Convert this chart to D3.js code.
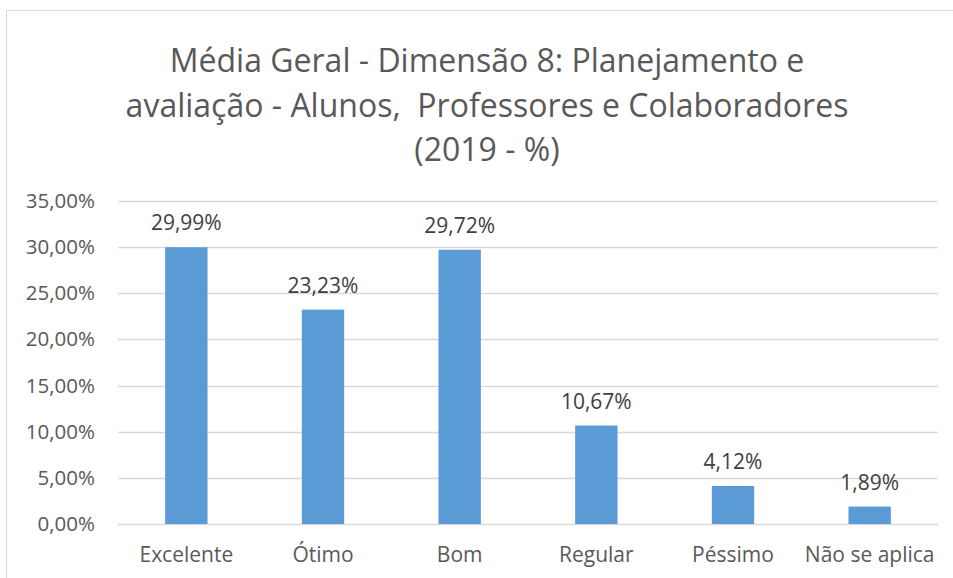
<!DOCTYPE html>
<html lang="pt">
<head>
<meta charset="UTF-8">
<script src="https://d3js.org/d3.v7.min.js"></script>
<style>
  body { margin: 0; background: #fff; }
  svg { display: block; font-family: "Open Sans", "Noto Sans", sans-serif; }
</style>
</head>
<body>
<svg width="953" height="578"></svg>
<script>
const categories = ["Excelente", "Ótimo", "Bom", "Regular", "Péssimo", "Não se aplica"];
const values = [29.99, 23.23, 29.72, 10.67, 4.12, 1.89];
const yTicks = [0, 5, 10, 15, 20, 25, 30, 35];
const titleLines = [
  "Média Geral - Dimensão 8: Planejamento e",
  "avaliação - Alunos,  Professores e Colaboradores",
  "(2019 - %)"
];

const svg = d3.select("svg");
const W = 953, H = 578;
const margin = { top: 201, right: 15, bottom: 54, left: 118 };
const width = W - margin.left - margin.right;
const height = H - margin.top - margin.bottom;

// chart frame
svg.append("rect")
  .attr("x", 6.5).attr("y", 10.5)
  .attr("width", W + 10).attr("height", H + 10)
  .attr("fill", "none").attr("stroke", "#d9d9d9");

// title
svg.append("text")
  .attr("text-anchor", "middle")
  .attr("fill", "#595959")
  .attr("font-size", "32px")
  .selectAll("tspan")
  .data(titleLines)
  .enter().append("tspan")
  .attr("x", 487)
  .attr("y", (d, i) => 72 + i * 44.5)
  .style("white-space", "pre")
  .text(d => d);

const g = svg.append("g").attr("transform", `translate(${margin.left},${margin.top})`);

const x = d3.scaleBand().domain(categories).range([0, width]).paddingInner(0.69).paddingOuter(0.345);
const y = d3.scaleLinear().domain([0, 35]).range([height, 0]);

// gridlines
g.selectAll(".grid")
  .data(yTicks)
  .enter().append("line")
  .attr("x1", 0).attr("x2", width)
  .attr("y1", d => Math.round(y(d)) + 0.5).attr("y2", d => Math.round(y(d)) + 0.5)
  .attr("stroke", "#d9d9d9").attr("stroke-width", 1.3);

// y axis labels
const yAxis = g.append("g")
  .call(d3.axisLeft(y).tickValues(yTicks).tickSize(0).tickPadding(23)
    .tickFormat(d => d.toFixed(2).replace(".", ",") + "%"));
yAxis.select(".domain").remove();
yAxis.selectAll("text").attr("fill", "#595959").attr("font-size", "20.5px").attr("font-family", "\"Open Sans\", sans-serif");

// bars
g.selectAll(".bar")
  .data(values)
  .enter().append("rect")
  .attr("x", (d, i) => x(categories[i]))
  .attr("y", d => y(d))
  .attr("width", x.bandwidth())
  .attr("height", d => height - y(d))
  .attr("fill", "#5b9bd5");

// data labels
g.selectAll(".label")
  .data(values)
  .enter().append("text")
  .attr("x", (d, i) => x(categories[i]) + x.bandwidth() / 2)
  .attr("y", d => y(d) - 17)
  .attr("text-anchor", "middle")
  .attr("fill", "#404040")
  .attr("font-size", "21px")
  .text(d => d.toFixed(2).replace(".", ",") + "%");

// x axis labels
const xAxis = g.append("g")
  .attr("transform", `translate(0,${height})`)
  .call(d3.axisBottom(x).tickSize(0).tickPadding(23));
xAxis.select(".domain").remove();
xAxis.selectAll("text").attr("fill", "#595959").attr("font-size", "21px").attr("font-family", "\"Open Sans\", sans-serif");
</script>
</body>
</html>
